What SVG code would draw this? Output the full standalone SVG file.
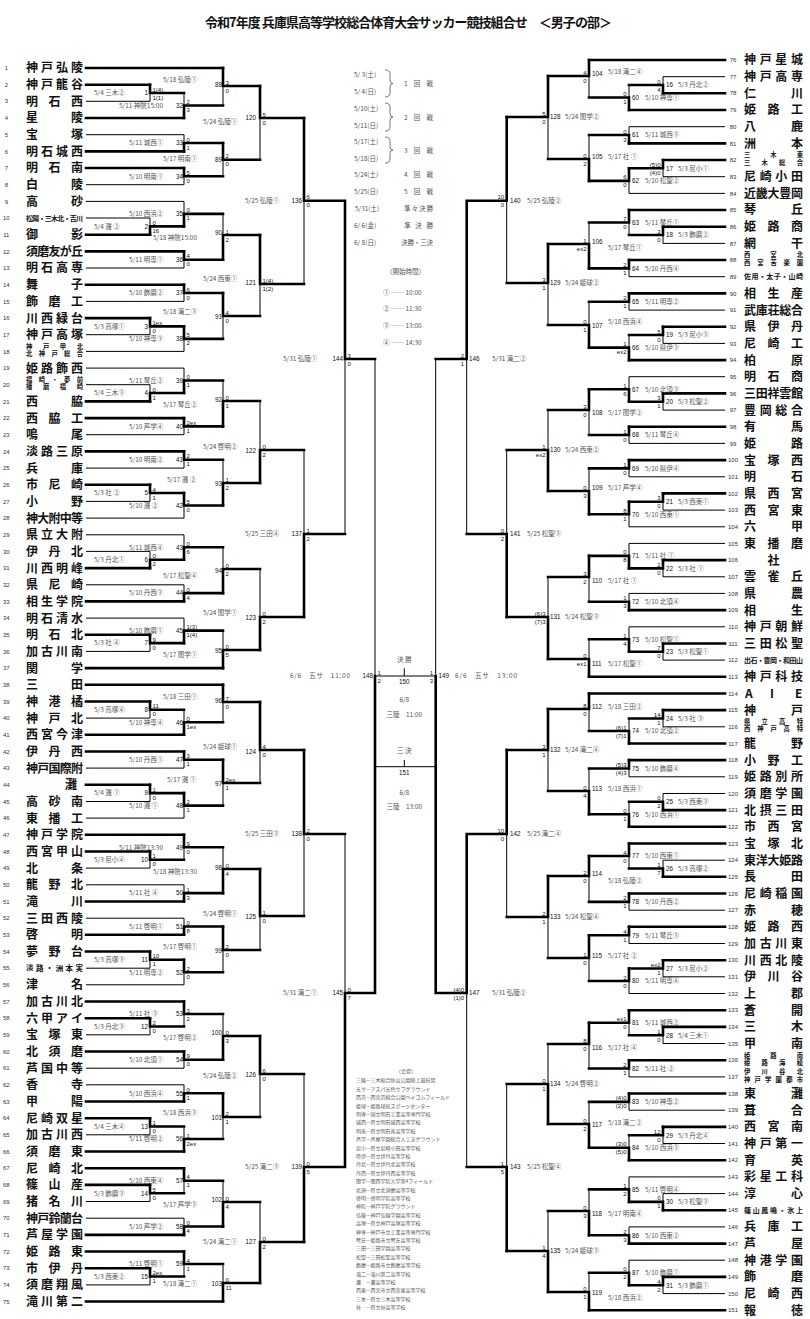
<svg xmlns="http://www.w3.org/2000/svg" width="810" height="1319" viewBox="0 0 810 1319">
<style>
text{font-family:"Noto Sans CJK JP","Liberation Sans",sans-serif}
.title{font-size:13px;font-weight:700;fill:#111}
.nm{font-size:12px;font-weight:700;fill:#111}
.sn{font-size:7px;font-weight:700;fill:#111}
.sn2{font-size:7.5px;font-weight:700;fill:#111}
.tn2{font-size:6.3px;font-weight:700;fill:#111}
.no{font-family:"Liberation Sans",sans-serif;font-size:6px;fill:#333;text-anchor:middle}
.d{font-size:6.5px;fill:#555}
.n{font-family:"Liberation Sans",sans-serif;font-size:6.3px;fill:#111}
.e{text-anchor:end}
.s{font-family:"Liberation Sans",sans-serif;font-size:6px;fill:#111}
.lg{font-size:6.5px;fill:#555}
.vn{font-size:5px;fill:#555}
.c{text-anchor:middle}
.tk{fill:none;stroke:#000;stroke-width:2.6;stroke-linecap:square}
.tn{fill:none;stroke:#000;stroke-width:1}
.br{fill:none;stroke:#555;stroke-width:0.8}
</style>
<rect width="810" height="1319" fill="#fff"/>
<text class="title" x="205" y="27" textLength="407">令和7年度 兵庫県高等学校総合体育大会サッカー競技組合せ　＜男子の部＞</text>

<g id="connectors">
<path class="tn" d="M86 101.3H150M86 134.7H184M86 184.7H184M86 201.4H184M86 218H150M86 268H184M86 301.4H184M86 334.7H150M86 351.4H184M86 368.1H184M86 384.7H150M86 434.7H184M86 468.1H184M86 501.4H150M86 518.1H184M86 534.8H184M86 551.4H150M86 584.8H184M86 618.1H184M86 651.4H150M86 718.1H150M86 768.1H184M86 801.5H150M86 818.1H184M86 868.1H150M86 884.8H184M86 918.2H184M86 968.2H150M86 984.8H184M86 1034.8H150M86 1068.2H184M86 1084.8H184M86 1134.8H150M86 1201.5H150M86 1218.2H184M86 1284.9H150"/>
<path class="tk" d="M86 68H223M86 84.7H150M86 118H184M86 151.4H184M86 168H184M86 234.7H150M86 251.4H184M86 284.7H184M86 318.1H150M86 401.4H150M86 418.1H184M86 451.4H184M86 484.7H150M86 568.1H150M86 601.4H184M86 634.8H150M86 668.1H223M86 684.8H223M86 701.5H150M86 734.8H184M86 751.5H184M86 784.8H150M86 834.8H184M86 851.5H150M86 901.5H184M86 934.8H184M86 951.5H150M86 1001.5H184M86 1018.2H150M86 1051.5H184M86 1101.5H184M86 1118.2H150M86 1151.5H184M86 1168.2H184M86 1184.9H150M86 1234.9H184M86 1251.5H184M86 1268.2H150M86 1301.5H223"/>
<path class="tn" d="M725 76.7H663M725 126.7H629M725 176.7H663M725 193.4H629M725 243.4H663M725 276.7H629M725 310.1H629M725 343.4H663M725 376.7H629M725 410.1H663M725 443.4H629M725 476.8H629M725 510.1H663M725 526.8H629M725 543.4H629M725 576.8H663M725 593.4H629M725 626.8H629M725 660.1H663M725 726.8H663M725 776.8H629M725 793.5H663M725 860.2H663M725 910.2H629M725 943.5H629M725 976.8H663M725 993.5H629M725 1043.5H663M725 1076.9H629M725 1110.2H629M725 1143.5H663M725 1176.9H629M725 1193.6H663M725 1226.9H629M725 1260.2H629M725 1293.6H663"/>
<path class="tk" d="M725 60H589M725 93.3H663M725 110H629M725 143.4H629M725 160H663M725 210H629M725 226.7H663M725 260H629M725 293.4H629M725 326.7H663M725 360.1H629M725 393.4H663M725 426.7H629M725 460.1H629M725 493.4H663M725 560.1H663M725 610.1H629M725 643.5H663M725 676.8H589M725 693.5H589M725 710.1H663M725 743.5H629M725 760.1H629M725 810.1H663M725 826.8H629M725 843.5H629M725 876.8H663M725 893.5H629M725 926.8H629M725 960.2H663M725 1010.2H629M725 1026.9H663M725 1060.2H629M725 1093.5H629M725 1126.9H663M725 1160.2H629M725 1210.2H663M725 1243.6H629M725 1276.9H663M725 1310.2H589"/>
<path class="tk" d="M150 84.7V93H184M150 234.7V226.4H184M150 318.1V326.4H184M150 401.4V393H184M150 484.7V493H184M150 568.1V559.8H184M150 634.8V643.1H184M150 701.5V709.8H184M150 784.8V793.1H184M150 851.5V859.8H184M150 951.5V959.8H184M150 1018.2V1026.5H184M150 1118.2V1126.5H184M150 1184.9V1193.2H184M150 1268.2V1276.5H184"/>
<path class="tn" d="M150 93V101.3M150 218V226.4M150 326.4V334.7M150 384.7V393M150 493V501.4M150 551.4V559.8M150 643.1V651.4M150 709.8V718.1M150 793.1V801.5M150 859.8V868.1M150 959.8V968.2M150 1026.5V1034.8M150 1126.5V1134.8M150 1193.2V1201.5M150 1276.5V1284.9"/>
<path class="tk" d="M184 118V105.5H223M184 151.4V143H223M184 168V176.3H223M184 226.4V213.9H223M184 251.4V259.7H223M184 284.7V293H223M184 326.4V338.9H223M184 393V380.5H223M184 418.1V426.4H223M184 451.4V459.7H223M184 493V505.5H223M184 559.8V547.3H223M184 601.4V593.1H223M184 643.1V630.6H223M184 734.8V722.3H223M184 751.5V759.8H223M184 793.1V805.6H223M184 834.8V847.3H223M184 901.5V893.1H223M184 934.8V926.5H223M184 959.8V972.3H223M184 1001.5V1014H223M184 1051.5V1059.8H223M184 1101.5V1093.2H223M184 1151.5V1139H223M184 1168.2V1180.7H223M184 1234.9V1226.5H223M184 1251.5V1264H223"/>
<path class="tn" d="M184 93V105.5M184 134.7V143M184 176.3V184.7M184 201.4V213.9M184 259.7V268M184 293V301.4M184 338.9V351.4M184 368.1V380.5M184 426.4V434.7M184 459.7V468.1M184 505.5V518.1M184 534.8V547.3M184 584.8V593.1M184 618.1V630.6M184 709.8V722.3M184 759.8V768.1M184 805.6V818.1M184 847.3V859.8M184 884.8V893.1M184 918.2V926.5M184 972.3V984.8M184 1014V1026.5M184 1059.8V1068.2M184 1084.8V1093.2M184 1126.5V1139M184 1180.7V1193.2M184 1218.2V1226.5M184 1264V1276.5"/>
<path class="tk" d="M223 68V86H260M223 143V159.7H260M223 259.7V235H260M223 293V316H260M223 426.4V401H260M223 505.5V483H260M223 593.1V569H260M223 668.1V650H260M223 684.8V702H260M223 759.8V783H260M223 893.1V869H260M223 926.5V950H260M223 1059.8V1036H260M223 1093.2V1117H260M223 1226.5V1202H260M223 1301.5V1283H260"/>
<path class="tn" d="M223 86V105.5M223 159.7V176.3M223 213.9V235M223 316V338.9M223 380.5V401M223 459.7V483M223 547.3V569M223 630.6V650M223 702V722.3M223 783V805.6M223 847.3V869M223 950V972.3M223 1014V1036M223 1117V1139M223 1180.7V1202M223 1264V1283"/>
<path class="tk" d="M260 86V118H304M260 235V284H304M260 483V450H304M260 650V617H304M260 702V750H304M260 869V916H304M260 1036V1074H304M260 1283V1242H304"/>
<path class="tn" d="M260 118V159.7M260 284V316M260 401V450M260 569V617M260 750V783M260 916V950M260 1074V1117M260 1202V1242"/>
<path class="tk" d="M304 118V200.7H345M304 617V534H345M304 750V834H345M304 1242V1167H345M345 200.7V359H375M345 1167V993H375M375 993V676"/>
<path class="tn" d="M304 200.7V284M304 450V534M304 834V916M304 1074V1167M345 359V534M345 834V993M375 359V676M375 676H435.7M375 766.7H435.7M404.3 668.3V676M404.3 760V766.7"/>
<path class="tk" d="M663 93.3V85H629M663 160V168.3H629M663 226.7V235H629M663 326.7V335H629M663 393.4V401.7H629M663 493.4V501.8H629M663 560.1V568.4H629M663 643.5V651.8H629M663 710.1V718.5H629M663 810.1V801.8H629M663 876.8V868.5H629M663 960.2V968.5H629M663 1026.9V1035.2H629M663 1126.9V1135.2H629M663 1210.2V1201.9H629M663 1276.9V1285.2H629"/>
<path class="tn" d="M663 76.7V85M663 168.3V176.7M663 235V243.4M663 335V343.4M663 401.7V410.1M663 501.8V510.1M663 568.4V576.8M663 651.8V660.1M663 718.5V726.8M663 793.5V801.8M663 860.2V868.5M663 968.5V976.8M663 1035.2V1043.5M663 1135.2V1143.5M663 1193.6V1201.9M663 1285.2V1293.6"/>
<path class="tk" d="M629 110V97.5H589M629 143.4V135H589M629 168.3V180.9H589M629 210V222.5H589M629 260V268.4H589M629 293.4V301.7H589M629 360.1V347.6H589M629 401.7V389.2H589M629 426.7V435H589M629 460.1V468.4H589M629 501.8V514.3H589M629 568.4V555.9H589M629 610.1V601.8H589M629 651.8V639.3H589M629 743.5V731H589M629 760.1V768.5H589M629 826.8V814.3H589M629 843.5V856H589M629 893.5V901.9H589M629 926.8V935.2H589M629 968.5V981H589M629 1010.2V1022.7H589M629 1060.2V1068.5H589M629 1093.5V1101.9H589M629 1160.2V1147.7H589M629 1201.9V1189.4H589M629 1243.6V1235.2H589M629 1285.2V1272.7H589"/>
<path class="tn" d="M629 85V97.5M629 126.7V135M629 180.9V193.4M629 222.5V235M629 268.4V276.7M629 301.7V310.1M629 335V347.6M629 376.7V389.2M629 435V443.4M629 468.4V476.8M629 514.3V526.8M629 543.4V555.9M629 593.4V601.8M629 626.8V639.3M629 718.5V731M629 768.5V776.8M629 801.8V814.3M629 856V868.5M629 901.9V910.2M629 935.2V943.5M629 981V993.5M629 1022.7V1035.2M629 1068.5V1076.9M629 1101.9V1110.2M629 1135.2V1147.7M629 1176.9V1189.4M629 1226.9V1235.2M629 1260.2V1272.7"/>
<path class="tk" d="M589 60V76H548M589 180.9V159H548M589 268.4V244H548M589 347.6V325H548M589 389.2V410H548M589 514.3V491H548M589 555.9V577H548M589 676.8V659H548M589 693.5V709H548M589 814.3V791H548M589 856V876H548M589 935.2V958H548M589 1022.7V1044H548M589 1147.7V1124H548M589 1235.2V1211H548M589 1310.2V1292H548"/>
<path class="tn" d="M589 76V97.5M589 135V159M589 222.5V244M589 301.7V325M589 410V435M589 468.4V491M589 577V601.8M589 639.3V659M589 709V731M589 768.5V791M589 876V901.9M589 958V981M589 1044V1068.5M589 1101.9V1124M589 1189.4V1211M589 1272.7V1292"/>
<path class="tk" d="M548 76V117H506.7M548 244V283H506.7M548 491V450H506.7M548 659V617H506.7M548 709V750H506.7M548 876V917H506.7M548 1124V1084H506.7M548 1292V1251H506.7"/>
<path class="tn" d="M548 117V159M548 283V325M548 410V450M548 577V617M548 750V791M548 917V958M548 1044V1084M548 1211V1251"/>
<path class="tk" d="M506.7 117V200.7H466.7M506.7 617V534H466.7M506.7 750V834H466.7M506.7 1251V1167H466.7M466.7 200.7V359H435.7M466.7 834V993H435.7M435.7 993V676"/>
<path class="tn" d="M506.7 200.7V283M506.7 450V534M506.7 834V917M506.7 1084V1167M466.7 359V534M466.7 993V1167M435.7 359V676"/>
<path class="br" d="M385 70Q390 70 390 74V80Q390 83.5 393 83.5Q390 83.5 390 87V93Q390 97 385 97M385 103Q390 103 390 107V113.5Q390 117 393 117Q390 117 390 120.5V127Q390 131 385 131M385 137Q390 137 390 141V146.5Q390 150 393 150Q390 150 390 153.5V159Q390 163 385 163"/>
</g>

<g id="teams-left">
<g id="t1"><text class="no" x="6.3" y="70.1">1</text><text class="nm" x="26 41 56 71" y="72.4">神戸弘陵</text></g>
<g id="t2"><text class="no" x="6.3" y="86.8">2</text><text class="nm" x="26 41 56 71" y="89.1">神戸龍谷</text></g>
<g id="t3"><text class="no" x="6.3" y="103.4">3</text><text class="nm" x="26 48.5 71" y="105.7">明石西</text></g>
<g id="t4"><text class="no" x="6.3" y="120.1">4</text><text class="nm" x="26 71" y="122.4">星陵</text></g>
<g id="t5"><text class="no" x="6.3" y="136.8">5</text><text class="nm" x="26 71" y="139.1">宝塚</text></g>
<g id="t6"><text class="no" x="6.3" y="153.5">6</text><text class="nm" x="26 41 56 71" y="155.8">明石城西</text></g>
<g id="t7"><text class="no" x="6.3" y="170.1">7</text><text class="nm" x="26 48.5 71" y="172.4">明石南</text></g>
<g id="t8"><text class="no" x="6.3" y="186.8">8</text><text class="nm" x="26 71" y="189.1">白陵</text></g>
<g id="t9"><text class="no" x="6.3" y="203.5">9</text><text class="nm" x="26 71" y="205.8">高砂</text></g>
<g id="t10"><text class="no" x="6.3" y="220.1">10</text><text class="sn" x="26 32.25 38.5 44.75 51 57.25 63.5 69.75 76" y="220.5">松陽・三木北・吉川</text></g>
<g id="t11"><text class="no" x="6.3" y="236.8">11</text><text class="nm" x="26 71" y="239.1">御影</text></g>
<g id="t12"><text class="no" x="6.3" y="253.5">12</text><text class="nm" x="26 37.25 48.5 59.75 71" y="255.8">須磨友が丘</text></g>
<g id="t13"><text class="no" x="6.3" y="270.1">13</text><text class="nm" x="26 41 56 71" y="272.4">明石高専</text></g>
<g id="t14"><text class="no" x="6.3" y="286.8">14</text><text class="nm" x="26 71" y="289.1">舞子</text></g>
<g id="t15"><text class="no" x="6.3" y="303.5">15</text><text class="nm" x="26 48.5 71" y="305.8">飾磨工</text></g>
<g id="t16"><text class="no" x="6.3" y="320.2">16</text><text class="nm" x="26 41 56 71" y="322.5">川西緑台</text></g>
<g id="t17"><text class="no" x="6.3" y="336.8">17</text><text class="nm" x="26 41 56 71" y="339.1">神戸高塚</text></g>
<g id="t18"><text class="no" x="6.3" y="353.5">18</text><text class="tn2" x="26 42.9 59.8 76.7" y="348.8">神戸甲北</text><text class="tn2" x="26 38.7 51.4 64 76.7" y="356">北神戸総合</text></g>
<g id="t19"><text class="no" x="6.3" y="370.2">19</text><text class="nm" x="26 41 56 71" y="372.5">姫路飾西</text></g>
<g id="t20"><text class="no" x="6.3" y="386.8">20</text><text class="tn2" x="26 38.7 51.4 64 76.7" y="382.1">福崎・夢前</text><text class="tn2" x="26 42.9 59.8 76.7" y="389.3">播磨福崎</text></g>
<g id="t21"><text class="no" x="6.3" y="403.5">21</text><text class="nm" x="26 71" y="405.8">西脇</text></g>
<g id="t22"><text class="no" x="6.3" y="420.2">22</text><text class="nm" x="26 48.5 71" y="422.5">西脇工</text></g>
<g id="t23"><text class="no" x="6.3" y="436.8">23</text><text class="nm" x="26 71" y="439.1">鳴尾</text></g>
<g id="t24"><text class="no" x="6.3" y="453.5">24</text><text class="nm" x="26 41 56 71" y="455.8">淡路三原</text></g>
<g id="t25"><text class="no" x="6.3" y="470.2">25</text><text class="nm" x="26 71" y="472.5">兵庫</text></g>
<g id="t26"><text class="no" x="6.3" y="486.8">26</text><text class="nm" x="26 48.5 71" y="489.1">市尼崎</text></g>
<g id="t27"><text class="no" x="6.3" y="503.5">27</text><text class="nm" x="26 71" y="505.8">小野</text></g>
<g id="t28"><text class="no" x="6.3" y="520.2">28</text><text class="nm" x="26 37.25 48.5 59.75 71" y="522.5">神大附中等</text></g>
<g id="t29"><text class="no" x="6.3" y="536.9">29</text><text class="nm" x="26 41 56 71" y="539.2">県立大附</text></g>
<g id="t30"><text class="no" x="6.3" y="553.5">30</text><text class="nm" x="26 48.5 71" y="555.8">伊丹北</text></g>
<g id="t31"><text class="no" x="6.3" y="570.2">31</text><text class="nm" x="26 41 56 71" y="572.5">川西明峰</text></g>
<g id="t32"><text class="no" x="6.3" y="586.9">32</text><text class="nm" x="26 48.5 71" y="589.2">県尼崎</text></g>
<g id="t33"><text class="no" x="6.3" y="603.5">33</text><text class="nm" x="26 41 56 71" y="605.8">相生学院</text></g>
<g id="t34"><text class="no" x="6.3" y="620.2">34</text><text class="nm" x="26 41 56 71" y="622.5">明石清水</text></g>
<g id="t35"><text class="no" x="6.3" y="636.9">35</text><text class="nm" x="26 48.5 71" y="639.2">明石北</text></g>
<g id="t36"><text class="no" x="6.3" y="653.5">36</text><text class="nm" x="26 41 56 71" y="655.8">加古川南</text></g>
<g id="t37"><text class="no" x="6.3" y="670.2">37</text><text class="nm" x="26 71" y="672.5">関学</text></g>
<g id="t38"><text class="no" x="6.3" y="686.9">38</text><text class="nm" x="26 71" y="689.2">三田</text></g>
<g id="t39"><text class="no" x="6.3" y="703.6">39</text><text class="nm" x="26 48.5 71" y="705.9">神港橘</text></g>
<g id="t40"><text class="no" x="6.3" y="720.2">40</text><text class="nm" x="26 48.5 71" y="722.5">神戸北</text></g>
<g id="t41"><text class="no" x="6.3" y="736.9">41</text><text class="nm" x="26 41 56 71" y="739.2">西宮今津</text></g>
<g id="t42"><text class="no" x="6.3" y="753.6">42</text><text class="nm" x="26 48.5 71" y="755.9">伊丹西</text></g>
<g id="t43"><text class="no" x="6.3" y="770.2">43</text><text class="nm" x="26 37.25 48.5 59.75 71" y="772.5">神戸国際附</text></g>
<g id="t44"><text class="no" x="6.3" y="786.9">44</text><text class="nm" x="65" y="789.2">灘</text></g>
<g id="t45"><text class="no" x="6.3" y="803.6">45</text><text class="nm" x="26 48.5 71" y="805.9">高砂南</text></g>
<g id="t46"><text class="no" x="6.3" y="820.2">46</text><text class="nm" x="26 48.5 71" y="822.5">東播工</text></g>
<g id="t47"><text class="no" x="6.3" y="836.9">47</text><text class="nm" x="26 41 56 71" y="839.2">神戸学院</text></g>
<g id="t48"><text class="no" x="6.3" y="853.6">48</text><text class="nm" x="26 41 56 71" y="855.9">西宮甲山</text></g>
<g id="t49"><text class="no" x="6.3" y="870.2">49</text><text class="nm" x="26 71" y="872.5">北条</text></g>
<g id="t50"><text class="no" x="6.3" y="886.9">50</text><text class="nm" x="26 48.5 71" y="889.2">龍野北</text></g>
<g id="t51"><text class="no" x="6.3" y="903.6">51</text><text class="nm" x="26 71" y="905.9">滝川</text></g>
<g id="t52"><text class="no" x="6.3" y="920.3">52</text><text class="nm" x="26 41 56 71" y="922.6">三田西陵</text></g>
<g id="t53"><text class="no" x="6.3" y="936.9">53</text><text class="nm" x="26 71" y="939.2">啓明</text></g>
<g id="t54"><text class="no" x="6.3" y="953.6">54</text><text class="nm" x="26 48.5 71" y="955.9">夢野台</text></g>
<g id="t55"><text class="no" x="6.3" y="970.3">55</text><text class="sn2" x="26 35.9 45.8 55.7 65.6 75.5" y="970.9">淡路・洲本実</text></g>
<g id="t56"><text class="no" x="6.3" y="986.9">56</text><text class="nm" x="26 71" y="989.2">津名</text></g>
<g id="t57"><text class="no" x="6.3" y="1003.6">57</text><text class="nm" x="26 41 56 71" y="1005.9">加古川北</text></g>
<g id="t58"><text class="no" x="6.3" y="1020.3">58</text><text class="nm" x="26 41 56 71" y="1022.6">六甲アイ</text></g>
<g id="t59"><text class="no" x="6.3" y="1036.9">59</text><text class="nm" x="26 48.5 71" y="1039.2">宝塚東</text></g>
<g id="t60"><text class="no" x="6.3" y="1053.6">60</text><text class="nm" x="26 48.5 71" y="1055.9">北須磨</text></g>
<g id="t61"><text class="no" x="6.3" y="1070.3">61</text><text class="nm" x="26 41 56 71" y="1072.6">芦国中等</text></g>
<g id="t62"><text class="no" x="6.3" y="1086.9">62</text><text class="nm" x="26 71" y="1089.2">香寺</text></g>
<g id="t63"><text class="no" x="6.3" y="1103.6">63</text><text class="nm" x="26 71" y="1105.9">甲陽</text></g>
<g id="t64"><text class="no" x="6.3" y="1120.3">64</text><text class="nm" x="26 41 56 71" y="1122.6">尼崎双星</text></g>
<g id="t65"><text class="no" x="6.3" y="1136.9">65</text><text class="nm" x="26 41 56 71" y="1139.2">加古川西</text></g>
<g id="t66"><text class="no" x="6.3" y="1153.6">66</text><text class="nm" x="26 48.5 71" y="1155.9">須磨東</text></g>
<g id="t67"><text class="no" x="6.3" y="1170.3">67</text><text class="nm" x="26 48.5 71" y="1172.6">尼崎北</text></g>
<g id="t68"><text class="no" x="6.3" y="1187">68</text><text class="nm" x="26 48.5 71" y="1189.3">篠山産</text></g>
<g id="t69"><text class="no" x="6.3" y="1203.6">69</text><text class="nm" x="26 48.5 71" y="1205.9">猪名川</text></g>
<g id="t70"><text class="no" x="6.3" y="1220.3">70</text><text class="nm" x="26 37.25 48.5 59.75 71" y="1222.6">神戸鈴蘭台</text></g>
<g id="t71"><text class="no" x="6.3" y="1237">71</text><text class="nm" x="26 41 56 71" y="1239.3">芦屋学園</text></g>
<g id="t72"><text class="no" x="6.3" y="1253.6">72</text><text class="nm" x="26 48.5 71" y="1255.9">姫路東</text></g>
<g id="t73"><text class="no" x="6.3" y="1270.3">73</text><text class="nm" x="26 48.5 71" y="1272.6">市伊丹</text></g>
<g id="t74"><text class="no" x="6.3" y="1287">74</text><text class="nm" x="26 41 56 71" y="1289.3">須磨翔風</text></g>
<g id="t75"><text class="no" x="6.3" y="1303.6">75</text><text class="nm" x="26 41 56 71" y="1305.9">滝川第二</text></g>
</g>

<g id="teams-right">
<g id="t76"><text class="no" x="733" y="62.1">76</text><text class="nm" x="744 759.67 775.33 791" y="64.4">神戸星城</text></g>
<g id="t77"><text class="no" x="733" y="78.8">77</text><text class="nm" x="744 759.67 775.33 791" y="81.1">神戸高専</text></g>
<g id="t78"><text class="no" x="733" y="95.4">78</text><text class="nm" x="744 791" y="97.7">仁川</text></g>
<g id="t79"><text class="no" x="733" y="112.1">79</text><text class="nm" x="744 767.5 791" y="114.4">姫路工</text></g>
<g id="t80"><text class="no" x="733" y="128.8">80</text><text class="nm" x="744 791" y="131.1">八鹿</text></g>
<g id="t81"><text class="no" x="733" y="145.5">81</text><text class="nm" x="744 791" y="147.8">洲本</text></g>
<g id="t82"><text class="no" x="733" y="162.1">82</text><text class="tn2" x="744 770.35 796.7" y="157.4">三木東</text><text class="tn2" x="744 761.6 779.1 796.7" y="164.6">三木総合</text></g>
<g id="t83"><text class="no" x="733" y="178.8">83</text><text class="nm" x="744 759.67 775.33 791" y="181.1">尼崎小田</text></g>
<g id="t84"><text class="no" x="733" y="195.5">84</text><text class="nm" x="744 755.75 767.5 779.25 791" y="197.8">近畿大豊岡</text></g>
<g id="t85"><text class="no" x="733" y="212.1">85</text><text class="nm" x="744 791" y="214.4">琴丘</text></g>
<g id="t86"><text class="no" x="733" y="228.8">86</text><text class="nm" x="744 767.5 791" y="231.1">姫路商</text></g>
<g id="t87"><text class="no" x="733" y="245.5">87</text><text class="nm" x="744 791" y="247.8">網干</text></g>
<g id="t88"><text class="no" x="733" y="262.1">88</text><text class="tn2" x="744 770.35 796.7" y="257.4">西宮北</text><text class="tn2" x="744 757.2 770.4 783.5 796.7" y="264.6">西宮苦楽園</text></g>
<g id="t89"><text class="no" x="733" y="278.8">89</text><text class="sn" x="744 751.4 758.9 766.3 773.7 781.1 788.6 796" y="279.2">佐用・太子・山崎</text></g>
<g id="t90"><text class="no" x="733" y="295.5">90</text><text class="nm" x="744 767.5 791" y="297.8">相生産</text></g>
<g id="t91"><text class="no" x="733" y="312.2">91</text><text class="nm" x="744 755.75 767.5 779.25 791" y="314.5">武庫荘総合</text></g>
<g id="t92"><text class="no" x="733" y="328.8">92</text><text class="nm" x="744 767.5 791" y="331.1">県伊丹</text></g>
<g id="t93"><text class="no" x="733" y="345.5">93</text><text class="nm" x="744 767.5 791" y="347.8">尼崎工</text></g>
<g id="t94"><text class="no" x="733" y="362.2">94</text><text class="nm" x="744 791" y="364.5">柏原</text></g>
<g id="t95"><text class="no" x="733" y="378.8">95</text><text class="nm" x="744 767.5 791" y="381.1">明石商</text></g>
<g id="t96"><text class="no" x="733" y="395.5">96</text><text class="nm" x="744 755.75 767.5 779.25 791" y="397.8">三田祥雲館</text></g>
<g id="t97"><text class="no" x="733" y="412.2">97</text><text class="nm" x="744 759.67 775.33 791" y="414.5">豊岡総合</text></g>
<g id="t98"><text class="no" x="733" y="428.8">98</text><text class="nm" x="744 791" y="431.1">有馬</text></g>
<g id="t99"><text class="no" x="733" y="445.5">99</text><text class="nm" x="744 791" y="447.8">姫路</text></g>
<g id="t100"><text class="no" x="733" y="462.2">100</text><text class="nm" x="744 767.5 791" y="464.5">宝塚西</text></g>
<g id="t101"><text class="no" x="733" y="478.9">101</text><text class="nm" x="744 791" y="481.2">明石</text></g>
<g id="t102"><text class="no" x="733" y="495.5">102</text><text class="nm" x="744 767.5 791" y="497.8">県西宮</text></g>
<g id="t103"><text class="no" x="733" y="512.2">103</text><text class="nm" x="744 767.5 791" y="514.5">西宮東</text></g>
<g id="t104"><text class="no" x="733" y="528.9">104</text><text class="nm" x="744 791" y="531.2">六甲</text></g>
<g id="t105"><text class="no" x="733" y="545.5">105</text><text class="nm" x="744 767.5 791" y="547.8">東播磨</text></g>
<g id="t106"><text class="no" x="733" y="562.2">106</text><text class="nm" x="767.5" y="564.5">社</text></g>
<g id="t107"><text class="no" x="733" y="578.9">107</text><text class="nm" x="744 767.5 791" y="581.2">雲雀丘</text></g>
<g id="t108"><text class="no" x="733" y="595.5">108</text><text class="nm" x="744 791" y="597.8">県農</text></g>
<g id="t109"><text class="no" x="733" y="612.2">109</text><text class="nm" x="744 791" y="614.5">相生</text></g>
<g id="t110"><text class="no" x="733" y="628.9">110</text><text class="nm" x="744 759.67 775.33 791" y="631.2">神戸朝鮮</text></g>
<g id="t111"><text class="no" x="733" y="645.6">111</text><text class="nm" x="744 759.67 775.33 791" y="647.9">三田松聖</text></g>
<g id="t112"><text class="no" x="733" y="662.2">112</text><text class="sn" x="744 750.5 757 763.5 770 776.5 783 789.5 796" y="662.6">出石・豊岡・和田山</text></g>
<g id="t113"><text class="no" x="733" y="678.9">113</text><text class="nm" x="744 759.67 775.33 791" y="681.2">神戸科技</text></g>
<g id="t114"><text class="no" x="733" y="695.6">114</text><text class="nm" x="745 770 795" y="697.9">AIE</text></g>
<g id="t115"><text class="no" x="733" y="712.2">115</text><text class="nm" x="744 791" y="714.5">神戸</text></g>
<g id="t116"><text class="no" x="733" y="728.9">116</text><text class="tn2" x="744 761.6 779.1 796.7" y="724.2">県立高特</text><text class="tn2" x="744 757.2 770.4 783.5 796.7" y="731.4">西神戸高特</text></g>
<g id="t117"><text class="no" x="733" y="745.6">117</text><text class="nm" x="744 791" y="747.9">龍野</text></g>
<g id="t118"><text class="no" x="733" y="762.2">118</text><text class="nm" x="744 767.5 791" y="764.5">小野工</text></g>
<g id="t119"><text class="no" x="733" y="778.9">119</text><text class="nm" x="744 759.67 775.33 791" y="781.2">姫路別所</text></g>
<g id="t120"><text class="no" x="733" y="795.6">120</text><text class="nm" x="744 759.67 775.33 791" y="797.9">須磨学園</text></g>
<g id="t121"><text class="no" x="733" y="812.2">121</text><text class="nm" x="744 759.67 775.33 791" y="814.5">北摂三田</text></g>
<g id="t122"><text class="no" x="733" y="828.9">122</text><text class="nm" x="744 767.5 791" y="831.2">市西宮</text></g>
<g id="t123"><text class="no" x="733" y="845.6">123</text><text class="nm" x="744 767.5 791" y="847.9">宝塚北</text></g>
<g id="t124"><text class="no" x="733" y="862.3">124</text><text class="nm" x="744 755.75 767.5 779.25 791" y="864.6">東洋大姫路</text></g>
<g id="t125"><text class="no" x="733" y="878.9">125</text><text class="nm" x="744 791" y="881.2">長田</text></g>
<g id="t126"><text class="no" x="733" y="895.6">126</text><text class="nm" x="744 759.67 775.33 791" y="897.9">尼崎稲園</text></g>
<g id="t127"><text class="no" x="733" y="912.3">127</text><text class="nm" x="744 791" y="914.6">赤穂</text></g>
<g id="t128"><text class="no" x="733" y="928.9">128</text><text class="nm" x="744 767.5 791" y="931.2">姫路西</text></g>
<g id="t129"><text class="no" x="733" y="945.6">129</text><text class="nm" x="744 759.67 775.33 791" y="947.9">加古川東</text></g>
<g id="t130"><text class="no" x="733" y="962.3">130</text><text class="nm" x="744 759.67 775.33 791" y="964.6">川西北陵</text></g>
<g id="t131"><text class="no" x="733" y="978.9">131</text><text class="nm" x="744 767.5 791" y="981.2">伊川谷</text></g>
<g id="t132"><text class="no" x="733" y="995.6">132</text><text class="nm" x="744 791" y="997.9">上郡</text></g>
<g id="t133"><text class="no" x="733" y="1012.3">133</text><text class="nm" x="744 791" y="1014.6">蒼開</text></g>
<g id="t134"><text class="no" x="733" y="1029">134</text><text class="nm" x="744 791" y="1031.3">三木</text></g>
<g id="t135"><text class="no" x="733" y="1045.6">135</text><text class="nm" x="744 791" y="1047.9">甲南</text></g>
<g id="t136"><text class="no" x="733" y="1062.3">136</text><text class="tn2" x="744 770.35 796.7" y="1057.6">姫路南</text><text class="tn2" x="744 761.6 779.1 796.7" y="1064.8">姫路海稜</text></g>
<g id="t137"><text class="no" x="733" y="1079">137</text><text class="tn2" x="744 761.6 779.1 796.7" y="1074.3">伊川谷北</text><text class="tn2" x="744 754.5 765.1 775.6 786.2 796.7" y="1081.5">神戸学園都市</text></g>
<g id="t138"><text class="no" x="733" y="1095.6">138</text><text class="nm" x="744 791" y="1097.9">東灘</text></g>
<g id="t139"><text class="no" x="733" y="1112.3">139</text><text class="nm" x="744 791" y="1114.6">葺合</text></g>
<g id="t140"><text class="no" x="733" y="1129">140</text><text class="nm" x="744 767.5 791" y="1131.3">西宮南</text></g>
<g id="t141"><text class="no" x="733" y="1145.6">141</text><text class="nm" x="744 759.67 775.33 791" y="1147.9">神戸第一</text></g>
<g id="t142"><text class="no" x="733" y="1162.3">142</text><text class="nm" x="744 791" y="1164.6">育英</text></g>
<g id="t143"><text class="no" x="733" y="1179">143</text><text class="nm" x="744 759.67 775.33 791" y="1181.3">彩星工科</text></g>
<g id="t144"><text class="no" x="733" y="1195.7">144</text><text class="nm" x="744 791" y="1198">淳心</text></g>
<g id="t145"><text class="no" x="733" y="1212.3">145</text><text class="sn" x="744 752.7 761.3 770 778.7 787.3 796" y="1212.7">篠山鳳鳴・氷上</text></g>
<g id="t146"><text class="no" x="733" y="1229">146</text><text class="nm" x="744 767.5 791" y="1231.3">兵庫工</text></g>
<g id="t147"><text class="no" x="733" y="1245.7">147</text><text class="nm" x="744 791" y="1248">芦屋</text></g>
<g id="t148"><text class="no" x="733" y="1262.3">148</text><text class="nm" x="744 759.67 775.33 791" y="1264.6">神港学園</text></g>
<g id="t149"><text class="no" x="733" y="1279">149</text><text class="nm" x="744 791" y="1281.3">飾磨</text></g>
<g id="t150"><text class="no" x="733" y="1295.7">150</text><text class="nm" x="744 767.5 791" y="1298">尼崎西</text></g>
<g id="t151"><text class="no" x="733" y="1312.3">151</text><text class="nm" x="744 791" y="1314.6">報徳</text></g>
</g>

<g id="matches-left-r1">
<g id="m1"><text class="d" x="94" y="95.3">5/4 三木②</text><text class="n e" x="148" y="95.3">1</text><text class="s" x="152.5" y="91.5">1(4)</text><text class="s" x="152.5" y="99.5">1(1)</text></g>
<g id="m2"><text class="d" x="94" y="228.7">5/4 灘 ②</text><text class="n e" x="148" y="228.7">2</text><text class="s" x="152.5" y="224.9">0</text><text class="s" x="152.5" y="232.9">16</text></g>
<g id="m3"><text class="d" x="94" y="328.7">5/3 高塚①</text><text class="n e" x="148" y="328.7">3</text><text class="s" x="152.5" y="324.9">1ex</text><text class="s" x="152.5" y="332.9">0</text></g>
<g id="m4"><text class="d" x="94" y="395.3">5/4 三木③</text><text class="n e" x="148" y="395.3">4</text><text class="s" x="152.5" y="391.5">0</text><text class="s" x="152.5" y="399.5">1</text></g>
<g id="m5"><text class="d" x="94" y="495.3">5/3 社 ②</text><text class="n e" x="148" y="495.3">5</text><text class="s" x="152.5" y="491.5">4</text><text class="s" x="152.5" y="499.5">1</text></g>
<g id="m6"><text class="d" x="94" y="562.1">5/3 丹北①</text><text class="n e" x="148" y="562.1">6</text><text class="s" x="152.5" y="558.3">0</text><text class="s" x="152.5" y="566.3">2</text></g>
<g id="m7"><text class="d" x="94" y="645.4">5/3 社 ④</text><text class="n e" x="148" y="645.4">7</text><text class="s" x="152.5" y="641.6">9</text><text class="s" x="152.5" y="649.6">0</text></g>
<g id="m8"><text class="d" x="94" y="712.1">5/3 高塚④</text><text class="n e" x="148" y="712.1">8</text><text class="s" x="152.5" y="708.3">11</text><text class="s" x="152.5" y="716.3">0</text></g>
<g id="m9"><text class="d" x="94" y="795.4">5/4 灘 ①</text><text class="n e" x="148" y="795.4">9</text><text class="s" x="152.5" y="791.6">1</text><text class="s" x="152.5" y="799.6">0</text></g>
<g id="m10"><text class="d" x="94" y="862.1">5/3 尼小④</text><text class="n e" x="148" y="862.1">10</text><text class="s" x="152.5" y="858.3">1</text><text class="s" x="152.5" y="866.3">0</text></g>
<g id="m11"><text class="d" x="94" y="962.1">5/3 高塚③</text><text class="n e" x="148" y="962.1">11</text><text class="s" x="152.5" y="958.3">10</text><text class="s" x="152.5" y="966.3">1</text></g>
<g id="m12"><text class="d" x="94" y="1028.8">5/3 丹北③</text><text class="n e" x="148" y="1028.8">12</text><text class="s" x="152.5" y="1025">2</text><text class="s" x="152.5" y="1033">0</text></g>
<g id="m13"><text class="d" x="94" y="1128.8">5/4 三木④</text><text class="n e" x="148" y="1128.8">13</text><text class="s" x="152.5" y="1125">1</text><text class="s" x="152.5" y="1133">0</text></g>
<g id="m14"><text class="d" x="94" y="1195.5">5/3 飾磨③</text><text class="n e" x="148" y="1195.5">14</text><text class="s" x="152.5" y="1191.7">5</text><text class="s" x="152.5" y="1199.7">0</text></g>
<g id="m15"><text class="d" x="94" y="1278.8">5/3 西東②</text><text class="n e" x="148" y="1278.8">15</text><text class="s" x="152.5" y="1275">2ex</text><text class="s" x="152.5" y="1283">1</text></g>
</g>

<g id="matches-left-r2">
<g id="m32"><text class="d" x="119" y="107.8">5/11 神院15:00</text><text class="n e" x="183" y="107.8">32</text><text class="s" x="186.5" y="104">2</text><text class="s" x="186.5" y="112">3</text></g>
<g id="m33"><text class="d" x="129" y="145.3">5/11 城西①</text><text class="n e" x="183" y="145.3">33</text><text class="s" x="186.5" y="141.5">0</text><text class="s" x="186.5" y="149.5">1</text></g>
<g id="m34"><text class="d" x="129" y="178.6">5/10 明南①</text><text class="n e" x="183" y="178.6">34</text><text class="s" x="186.5" y="174.8">5</text><text class="s" x="186.5" y="182.8">0</text></g>
<g id="m35"><text class="d" x="129" y="216.2">5/10 西浜②</text><text class="n e" x="183" y="216.2">35</text><text class="s" x="186.5" y="212.4">0</text><text class="s" x="186.5" y="220.4">1</text></g>
<g id="m36"><text class="d" x="129" y="262">5/11 明専①</text><text class="n e" x="183" y="262">36</text><text class="s" x="186.5" y="258.2">4</text><text class="s" x="186.5" y="266.2">0</text></g>
<g id="m37"><text class="d" x="129" y="295.3">5/10 飾磨②</text><text class="n e" x="183" y="295.3">37</text><text class="s" x="186.5" y="291.5">6</text><text class="s" x="186.5" y="299.5">0</text></g>
<g id="m38"><text class="d" x="129" y="341.2">5/10 神専③</text><text class="n e" x="183" y="341.2">38</text><text class="s" x="186.5" y="337.4">5</text><text class="s" x="186.5" y="345.4">2</text></g>
<g id="m39"><text class="d" x="129" y="382.8">5/11 琴丘②</text><text class="n e" x="183" y="382.8">39</text><text class="s" x="186.5" y="379">0</text><text class="s" x="186.5" y="387">1</text></g>
<g id="m40"><text class="d" x="129" y="428.7">5/10 芦学④</text><text class="n e" x="183" y="428.7">40</text><text class="s" x="186.5" y="424.9">2ex</text><text class="s" x="186.5" y="432.9">1</text></g>
<g id="m41"><text class="d" x="129" y="462">5/10 明南②</text><text class="n e" x="183" y="462">41</text><text class="s" x="186.5" y="458.2">2</text><text class="s" x="186.5" y="466.2">1</text></g>
<g id="m42"><text class="d" x="129" y="507.8">5/10 灘 ②</text><text class="n e" x="183" y="507.8">42</text><text class="s" x="186.5" y="504">5</text><text class="s" x="186.5" y="512">0</text></g>
<g id="m43"><text class="d" x="129" y="549.6">5/11 城西④</text><text class="n e" x="183" y="549.6">43</text><text class="s" x="186.5" y="545.8">0</text><text class="s" x="186.5" y="553.8">6</text></g>
<g id="m44"><text class="d" x="129" y="595.4">5/10 丹西③</text><text class="n e" x="183" y="595.4">44</text><text class="s" x="186.5" y="591.6">0</text><text class="s" x="186.5" y="599.6">4</text></g>
<g id="m45"><text class="d" x="129" y="632.9">5/10 飾磨①</text><text class="n e" x="183" y="632.9">45</text><text class="s" x="186.5" y="629.1">1(3)</text><text class="s" x="186.5" y="637.1">1(4)</text></g>
<g id="m46"><text class="d" x="129" y="724.6">5/10 神専④</text><text class="n e" x="183" y="724.6">46</text><text class="s" x="186.5" y="720.8">0</text><text class="s" x="186.5" y="728.8">1ex</text></g>
<g id="m47"><text class="d" x="129" y="762.1">5/10 丹西①</text><text class="n e" x="183" y="762.1">47</text><text class="s" x="186.5" y="758.3">3</text><text class="s" x="186.5" y="766.3">1</text></g>
<g id="m48"><text class="d" x="129" y="807.9">5/10 灘 ①</text><text class="n e" x="183" y="807.9">48</text><text class="s" x="186.5" y="804.1">2</text><text class="s" x="186.5" y="812.1">1</text></g>
<g id="m49"><text class="d" x="119" y="849.6">5/11 神院13:30</text><text class="n e" x="183" y="849.6">49</text><text class="s" x="186.5" y="845.8">9</text><text class="s" x="186.5" y="853.8">0</text></g>
<g id="m50"><text class="d" x="129" y="895.4">5/11 社 ④</text><text class="n e" x="183" y="895.4">50</text><text class="s" x="186.5" y="891.6">1</text><text class="s" x="186.5" y="899.6">3</text></g>
<g id="m51"><text class="d" x="129" y="928.8">5/11 啓明①</text><text class="n e" x="183" y="928.8">51</text><text class="s" x="186.5" y="925">0</text><text class="s" x="186.5" y="933">8</text></g>
<g id="m52"><text class="d" x="129" y="974.6">5/11 明専②</text><text class="n e" x="183" y="974.6">52</text><text class="s" x="186.5" y="970.8">2</text><text class="s" x="186.5" y="978.8">0</text></g>
<g id="m53"><text class="d" x="129" y="1016.3">5/11 社 ③</text><text class="n e" x="183" y="1016.3">53</text><text class="s" x="186.5" y="1012.5">3</text><text class="s" x="186.5" y="1020.5">2</text></g>
<g id="m54"><text class="d" x="129" y="1062.1">5/10 北須①</text><text class="n e" x="183" y="1062.1">54</text><text class="s" x="186.5" y="1058.3">9</text><text class="s" x="186.5" y="1066.3">0</text></g>
<g id="m55"><text class="d" x="129" y="1095.5">5/10 西浜④</text><text class="n e" x="183" y="1095.5">55</text><text class="s" x="186.5" y="1091.7">0</text><text class="s" x="186.5" y="1099.7">1</text></g>
<g id="m56"><text class="d" x="129" y="1141.3">5/11 啓明②</text><text class="n e" x="183" y="1141.3">56</text><text class="s" x="186.5" y="1137.5">1</text><text class="s" x="186.5" y="1145.5">2ex</text></g>
<g id="m57"><text class="d" x="129" y="1183">5/10 西東④</text><text class="n e" x="183" y="1183">57</text><text class="s" x="186.5" y="1179.2">4</text><text class="s" x="186.5" y="1187.2">1</text></g>
<g id="m58"><text class="d" x="129" y="1228.8">5/10 芦学②</text><text class="n e" x="183" y="1228.8">58</text><text class="s" x="186.5" y="1225">0</text><text class="s" x="186.5" y="1233">4</text></g>
<g id="m59"><text class="d" x="129" y="1266.3">5/11 啓明①</text><text class="n e" x="183" y="1266.3">59</text><text class="s" x="186.5" y="1262.5">4</text><text class="s" x="186.5" y="1270.5">1</text></g>
</g>

<g id="matches-left-r3">
<g id="m88"><text class="d" x="163" y="82.3">5/18 弘陵①</text><text class="n e" x="222" y="87.3">88</text><text class="s" x="225.5" y="84.5">3</text><text class="s" x="225.5" y="92.5">0</text></g>
<g id="m89"><text class="d" x="163" y="161.3">5/17 明南①</text><text class="n e" x="222" y="162">89</text><text class="s" x="225.5" y="158.2">2</text><text class="s" x="225.5" y="166.2">0</text></g>
<g id="m90"><text class="d" x="153" y="240">5/18 神院15:00</text><text class="n e" x="222" y="235.3">90</text><text class="s" x="225.5" y="233.5">1</text><text class="s" x="225.5" y="241.5">2</text></g>
<g id="m91"><text class="d" x="163" y="314.3">5/18 滝二③</text><text class="n e" x="222" y="319">91</text><text class="s" x="225.5" y="314.5">4</text><text class="s" x="225.5" y="322.5">0</text></g>
<g id="m92"><text class="d" x="163" y="407.3">5/17 琴丘②</text><text class="n e" x="222" y="402.3">92</text><text class="s" x="225.5" y="399.5">0</text><text class="s" x="225.5" y="407.5">1</text></g>
<g id="m93"><text class="d" x="167" y="482.3">5/17 灘 ②</text><text class="n e" x="222" y="486.3">93</text><text class="s" x="225.5" y="481.5">1</text><text class="s" x="225.5" y="489.5">2</text></g>
<g id="m94"><text class="d" x="163" y="578">5/17 松聖④</text><text class="n e" x="222" y="573.3">94</text><text class="s" x="225.5" y="567.5">0</text><text class="s" x="225.5" y="575.5">2</text></g>
<g id="m95"><text class="d" x="163" y="657.3">5/17 関学①</text><text class="n e" x="222" y="653.3">95</text><text class="s" x="225.5" y="648.5">0</text><text class="s" x="225.5" y="656.5">5</text></g>
<g id="m96"><text class="d" x="163" y="699">5/18 三田①</text><text class="n e" x="222" y="703.3">96</text><text class="s" x="225.5" y="700.5">7</text><text class="s" x="225.5" y="708.5">0</text></g>
<g id="m97"><text class="d" x="167" y="782.3">5/17 灘 ①</text><text class="n e" x="222" y="786.3">97</text><text class="s" x="225.5" y="781.5">2ex</text><text class="s" x="225.5" y="789.5">1</text></g>
<g id="m98"><text class="d" x="153" y="874.3">5/18 神院13:30</text><text class="n e" x="222" y="870.3">98</text><text class="s" x="225.5" y="867.5">0</text><text class="s" x="225.5" y="875.5">4</text></g>
<g id="m99"><text class="d" x="163" y="949">5/17 啓明①</text><text class="n e" x="222" y="953">99</text><text class="s" x="225.5" y="948.5">2</text><text class="s" x="225.5" y="956.5">0</text></g>
<g id="m100"><text class="d" x="163" y="1040.3">5/17 啓明②</text><text class="n e" x="222" y="1035.3">100</text><text class="s" x="225.5" y="1034.5">0</text><text class="s" x="225.5" y="1042.5">3</text></g>
<g id="m101"><text class="d" x="163" y="1115.3">5/18 西浜③</text><text class="n e" x="222" y="1120">101</text><text class="s" x="225.5" y="1115.5">2</text><text class="s" x="225.5" y="1123.5">1</text></g>
<g id="m102"><text class="d" x="163" y="1207.3">5/17 芦学③</text><text class="n e" x="222" y="1202.3">102</text><text class="s" x="225.5" y="1200.5">0</text><text class="s" x="225.5" y="1208.5">4</text></g>
<g id="m103"><text class="d" x="163" y="1286.3">5/18 滝二①</text><text class="n e" x="222" y="1286.3">103</text><text class="s" x="225.5" y="1281.5">0</text><text class="s" x="225.5" y="1289.5">11</text></g>
</g>

<g id="matches-left-r4">
<g id="m120"><text class="d" x="203" y="124.3">5/24 弘陵①</text><text class="n e" x="256" y="120">120</text><text class="s" x="262.5" y="116.5">5</text><text class="s" x="262.5" y="124.5">0</text></g>
<g id="m121"><text class="d" x="203" y="281.3">5/24 西東①</text><text class="n e" x="256" y="285.3">121</text><text class="s" x="262.5" y="282.5">1(4)</text><text class="s" x="262.5" y="290.5">1(2)</text></g>
<g id="m122"><text class="d" x="203" y="449.3">5/24 啓明②</text><text class="n e" x="256" y="453.3">122</text><text class="s" x="262.5" y="448.5">0</text><text class="s" x="262.5" y="456.5">2</text></g>
<g id="m123"><text class="d" x="203" y="615.3">5/24 関学①</text><text class="n e" x="256" y="620">123</text><text class="s" x="262.5" y="615.5">0</text><text class="s" x="262.5" y="623.5">2</text></g>
<g id="m124"><text class="d" x="203" y="749.3">5/24 姫球①</text><text class="n e" x="256" y="754">124</text><text class="s" x="262.5" y="748.5">4</text><text class="s" x="262.5" y="756.5">0</text></g>
<g id="m125"><text class="d" x="203" y="916.3">5/24 啓明①</text><text class="n e" x="256" y="919">125</text><text class="s" x="262.5" y="914.5">1</text><text class="s" x="262.5" y="922.5">0</text></g>
<g id="m126"><text class="d" x="203" y="1078">5/24 弘陵②</text><text class="n e" x="256" y="1077.3">126</text><text class="s" x="262.5" y="1072.5">6</text><text class="s" x="262.5" y="1080.5">0</text></g>
<g id="m127"><text class="d" x="203" y="1244.3">5/24 滝二①</text><text class="n e" x="256" y="1244.3">127</text><text class="s" x="262.5" y="1240.5">0</text><text class="s" x="262.5" y="1248.5">2</text></g>
</g>

<g id="matches-left-late">
<g id="m136"><text class="d" x="245" y="203">5/25 弘陵①</text><text class="n e" x="302" y="203">136</text><text class="s" x="306.5" y="199.2">6</text><text class="s" x="306.5" y="207.2">0</text></g>
<g id="m137"><text class="d" x="245" y="536.3">5/25 三田④</text><text class="n e" x="302" y="536.3">137</text><text class="s" x="306.5" y="532.5">1</text><text class="s" x="306.5" y="540.5">2</text></g>
<g id="m138"><text class="d" x="245" y="836.3">5/25 三田③</text><text class="n e" x="302" y="836.3">138</text><text class="s" x="306.5" y="832.5">2</text><text class="s" x="306.5" y="840.5">0</text></g>
<g id="m139"><text class="d" x="245" y="1169.3">5/25 滝二③</text><text class="n e" x="302" y="1169.3">139</text><text class="s" x="306.5" y="1165.5">0</text><text class="s" x="306.5" y="1173.5">5</text></g>
<g id="m144"><text class="d" x="283" y="361.3">5/31 弘陵①</text><text class="n e" x="343" y="361.3">144</text><text class="s" x="347.5" y="357.5">3</text><text class="s" x="347.5" y="365.5">0</text></g>
<g id="m145"><text class="d" x="283" y="995.3">5/31 滝二①</text><text class="n e" x="343" y="995.3">145</text><text class="s" x="347.5" y="991.5">0</text><text class="s" x="347.5" y="999.5">7</text></g>
<g id="m148"><text class="d" x="290" y="678.3" textLength="60">6/6　五サ　11:00</text><text class="n e" x="373" y="678.3">148</text><text class="s" x="377.5" y="674.5">1</text><text class="s" x="377.5" y="682.5">2</text></g>
</g>

<g id="matches-right-r1">
<g id="m16"><text class="n" x="666" y="87.3">16</text><text class="d" x="678" y="87.3">5/3 丹北②</text><text class="s e" x="660.5" y="83.5">0</text><text class="s e" x="660.5" y="91.5">4</text></g>
<g id="m17"><text class="n" x="666" y="170.6">17</text><text class="d" x="678" y="170.6">5/3 尼小①</text><text class="s e" x="660.5" y="166.8">(5)0</text><text class="s e" x="660.5" y="174.8">(4)0</text></g>
<g id="m18"><text class="n" x="666" y="237.3">18</text><text class="d" x="678" y="237.3">5/3 飾磨②</text><text class="s e" x="660.5" y="233.5">3</text><text class="s e" x="660.5" y="241.5">0</text></g>
<g id="m19"><text class="n" x="666" y="337.3">19</text><text class="d" x="678" y="337.3">5/3 尼小③</text><text class="s e" x="660.5" y="333.5">5</text><text class="s e" x="660.5" y="341.5">0</text></g>
<g id="m20"><text class="n" x="666" y="404">20</text><text class="d" x="678" y="404">5/3 松聖②</text><text class="s e" x="660.5" y="400.2">3</text><text class="s e" x="660.5" y="408.2">1</text></g>
<g id="m21"><text class="n" x="666" y="504.1">21</text><text class="d" x="678" y="504.1">5/3 西東①</text><text class="s e" x="660.5" y="500.3">3</text><text class="s e" x="660.5" y="508.3">0</text></g>
<g id="m22"><text class="n" x="666" y="570.7">22</text><text class="d" x="678" y="570.7">5/3 社 ①</text><text class="s e" x="660.5" y="566.9">2</text><text class="s e" x="660.5" y="574.9">0</text></g>
<g id="m23"><text class="n" x="666" y="654.1">23</text><text class="d" x="678" y="654.1">5/3 松聖①</text><text class="s e" x="660.5" y="650.3">7</text><text class="s e" x="660.5" y="658.3">0</text></g>
<g id="m24"><text class="n" x="666" y="720.8">24</text><text class="d" x="678" y="720.8">5/3 社 ③</text><text class="s e" x="660.5" y="717">14</text><text class="s e" x="660.5" y="725">1</text></g>
<g id="m25"><text class="n" x="666" y="804.1">25</text><text class="d" x="678" y="804.1">5/3 西東③</text><text class="s e" x="660.5" y="800.3">0</text><text class="s e" x="660.5" y="808.3">2</text></g>
<g id="m26"><text class="n" x="666" y="870.8">26</text><text class="d" x="678" y="870.8">5/3 高塚②</text><text class="s e" x="660.5" y="867">1</text><text class="s e" x="660.5" y="875">7</text></g>
<g id="m27"><text class="n" x="666" y="970.8">27</text><text class="d" x="678" y="970.8">5/3 尼小②</text><text class="s e" x="660.5" y="967">ex2</text><text class="s e" x="660.5" y="975">1</text></g>
<g id="m28"><text class="n" x="666" y="1037.5">28</text><text class="d" x="678" y="1037.5">5/4 三木①</text><text class="s e" x="660.5" y="1033.7">1</text><text class="s e" x="660.5" y="1041.7">0</text></g>
<g id="m29"><text class="n" x="666" y="1137.5">29</text><text class="d" x="678" y="1137.5">5/3 丹北④</text><text class="s e" x="660.5" y="1133.7">12</text><text class="s e" x="660.5" y="1141.7">0</text></g>
<g id="m30"><text class="n" x="666" y="1204.2">30</text><text class="d" x="678" y="1204.2">5/3 松聖③</text><text class="s e" x="660.5" y="1200.4">0</text><text class="s e" x="660.5" y="1208.4">1</text></g>
<g id="m31"><text class="n" x="666" y="1287.5">31</text><text class="d" x="678" y="1287.5">5/3 飾磨①</text><text class="s e" x="660.5" y="1283.7">4</text><text class="s e" x="660.5" y="1291.7">2</text></g>
</g>

<g id="matches-right-r2">
<g id="m60"><text class="n" x="632" y="99.8">60</text><text class="d" x="645" y="99.8">5/10 神専①</text><text class="s e" x="626.5" y="96">0</text><text class="s e" x="626.5" y="104">1</text></g>
<g id="m61"><text class="n" x="632" y="137.3">61</text><text class="d" x="645" y="137.3">5/11 城西③</text><text class="s e" x="626.5" y="133.5">0</text><text class="s e" x="626.5" y="141.5">3</text></g>
<g id="m62"><text class="n" x="632" y="183.2">62</text><text class="d" x="645" y="183.2">5/10 松聖②</text><text class="s e" x="626.5" y="179.4">6</text><text class="s e" x="626.5" y="187.4">0</text></g>
<g id="m63"><text class="n" x="632" y="224.8">63</text><text class="d" x="645" y="224.8">5/11 琴丘①</text><text class="s e" x="626.5" y="221">7</text><text class="s e" x="626.5" y="229">0</text></g>
<g id="m64"><text class="n" x="632" y="270.7">64</text><text class="d" x="645" y="270.7">5/10 丹西④</text><text class="s e" x="626.5" y="266.9">2</text><text class="s e" x="626.5" y="274.9">1</text></g>
<g id="m65"><text class="n" x="632" y="304">65</text><text class="d" x="645" y="304">5/11 明専②</text><text class="s e" x="626.5" y="300.2">2</text><text class="s e" x="626.5" y="308.2">1</text></g>
<g id="m66"><text class="n" x="632" y="349.9">66</text><text class="d" x="645" y="349.9">5/10 県伊③</text><text class="s e" x="626.5" y="346.1">1</text><text class="s e" x="626.5" y="354.1">ex2</text></g>
<g id="m67"><text class="n" x="632" y="391.5">67</text><text class="d" x="645" y="391.5">5/10 北須③</text><text class="s e" x="626.5" y="387.7">1</text><text class="s e" x="626.5" y="395.7">6</text></g>
<g id="m68"><text class="n" x="632" y="437.3">68</text><text class="d" x="645" y="437.3">5/11 琴丘④</text><text class="s e" x="626.5" y="433.5">1</text><text class="s e" x="626.5" y="441.5">0</text></g>
<g id="m69"><text class="n" x="632" y="470.7">69</text><text class="d" x="645" y="470.7">5/10 県伊④</text><text class="s e" x="626.5" y="466.9">1</text><text class="s e" x="626.5" y="474.9">0</text></g>
<g id="m70"><text class="n" x="632" y="516.6">70</text><text class="d" x="645" y="516.6">5/10 西東①</text><text class="s e" x="626.5" y="512.8">8</text><text class="s e" x="626.5" y="520.8">1</text></g>
<g id="m71"><text class="n" x="632" y="558.2">71</text><text class="d" x="645" y="558.2">5/11 社 ①</text><text class="s e" x="626.5" y="554.4">0</text><text class="s e" x="626.5" y="562.4">8</text></g>
<g id="m72"><text class="n" x="632" y="604.1">72</text><text class="d" x="645" y="604.1">5/10 北須④</text><text class="s e" x="626.5" y="600.3">1</text><text class="s e" x="626.5" y="608.3">3</text></g>
<g id="m73"><text class="n" x="632" y="641.6">73</text><text class="d" x="645" y="641.6">5/10 松聖①</text><text class="s e" x="626.5" y="637.8">1</text><text class="s e" x="626.5" y="645.8">4</text></g>
<g id="m74"><text class="n" x="632" y="733.3">74</text><text class="d" x="645" y="733.3">5/10 北須②</text><text class="s e" x="626.5" y="729.5">(6)1</text><text class="s e" x="626.5" y="737.5">(7)1</text></g>
<g id="m75"><text class="n" x="632" y="770.8">75</text><text class="d" x="645" y="770.8">5/10 飾磨④</text><text class="s e" x="626.5" y="767">(5)3</text><text class="s e" x="626.5" y="775">(4)3</text></g>
<g id="m76"><text class="n" x="632" y="816.6">76</text><text class="d" x="645" y="816.6">5/10 西浜①</text><text class="s e" x="626.5" y="812.8">0</text><text class="s e" x="626.5" y="820.8">1</text></g>
<g id="m77"><text class="n" x="632" y="858.3">77</text><text class="d" x="645" y="858.3">5/10 西東①</text><text class="s e" x="626.5" y="854.5">4</text><text class="s e" x="626.5" y="862.5">0</text></g>
<g id="m78"><text class="n" x="632" y="904.2">78</text><text class="d" x="645" y="904.2">5/10 丹西②</text><text class="s e" x="626.5" y="900.4">2</text><text class="s e" x="626.5" y="908.4">1</text></g>
<g id="m79"><text class="n" x="632" y="937.5">79</text><text class="d" x="645" y="937.5">5/11 琴丘③</text><text class="s e" x="626.5" y="933.7">4</text><text class="s e" x="626.5" y="941.7">1</text></g>
<g id="m80"><text class="n" x="632" y="983.3">80</text><text class="d" x="645" y="983.3">5/11 明専④</text><text class="s e" x="626.5" y="979.5">2</text><text class="s e" x="626.5" y="987.5">0</text></g>
<g id="m81"><text class="n" x="632" y="1025">81</text><text class="d" x="645" y="1025">5/11 城西②</text><text class="s e" x="626.5" y="1021.2">ex1</text><text class="s e" x="626.5" y="1029.2">0</text></g>
<g id="m82"><text class="n" x="632" y="1070.8">82</text><text class="d" x="645" y="1070.8">5/11 社 ②</text><text class="s e" x="626.5" y="1067">2</text><text class="s e" x="626.5" y="1075">1</text></g>
<g id="m83"><text class="n" x="632" y="1104.2">83</text><text class="d" x="645" y="1104.2">5/10 神専②</text><text class="s e" x="626.5" y="1100.4">(4)0</text><text class="s e" x="626.5" y="1108.4">(2)0</text></g>
<g id="m84"><text class="n" x="632" y="1150">84</text><text class="d" x="645" y="1150">5/10 西浜③</text><text class="s e" x="626.5" y="1146.2">(3)0</text><text class="s e" x="626.5" y="1154.2">(5)0</text></g>
<g id="m85"><text class="n" x="632" y="1191.7">85</text><text class="d" x="645" y="1191.7">5/11 啓明④</text><text class="s e" x="626.5" y="1187.9">1</text><text class="s e" x="626.5" y="1195.9">2</text></g>
<g id="m86"><text class="n" x="632" y="1237.5">86</text><text class="d" x="645" y="1237.5">5/10 西東②</text><text class="s e" x="626.5" y="1233.7">2</text><text class="s e" x="626.5" y="1241.7">3</text></g>
<g id="m87"><text class="n" x="632" y="1275">87</text><text class="d" x="645" y="1275">5/10 飾磨①</text><text class="s e" x="626.5" y="1271.2">0</text><text class="s e" x="626.5" y="1279.2">2</text></g>
</g>

<g id="matches-right-r3">
<g id="m104"><text class="n" x="592" y="76.4">104</text><text class="d" x="608" y="74.3">5/18 滝二④</text><text class="s e" x="586.5" y="74.5">4</text><text class="s e" x="586.5" y="82.5">0</text></g>
<g id="m105"><text class="n" x="592" y="159.4">105</text><text class="d" x="608" y="159.4">5/17 社 ①</text><text class="s e" x="586.5" y="157.5">0</text><text class="s e" x="586.5" y="165.5">2</text></g>
<g id="m106"><text class="n" x="592" y="244.4">106</text><text class="d" x="608" y="250">5/17 琴丘①</text><text class="s e" x="586.5" y="242.5">1</text><text class="s e" x="586.5" y="250.5">ex2</text></g>
<g id="m107"><text class="n" x="592" y="328.1">107</text><text class="d" x="608" y="324">5/18 西浜④</text><text class="s e" x="586.5" y="323.5">0</text><text class="s e" x="586.5" y="331.5">1</text></g>
<g id="m108"><text class="n" x="592" y="415.4">108</text><text class="d" x="608" y="415.4">5/17 関学②</text><text class="s e" x="586.5" y="408.5">3</text><text class="s e" x="586.5" y="416.5">0</text></g>
<g id="m109"><text class="n" x="592" y="490.4">109</text><text class="d" x="608" y="490.4">5/17 芦学④</text><text class="s e" x="586.5" y="489.5">0</text><text class="s e" x="586.5" y="497.5">3</text></g>
<g id="m110"><text class="n" x="592" y="583.4">110</text><text class="d" x="608" y="583.4">5/17 社 ①</text><text class="s e" x="586.5" y="575.5">3</text><text class="s e" x="586.5" y="583.5">2</text></g>
<g id="m111"><text class="n" x="592" y="666.4">111</text><text class="d" x="608" y="666.4">5/17 松聖①</text><text class="s e" x="586.5" y="657.5">0</text><text class="s e" x="586.5" y="665.5">ex1</text></g>
<g id="m112"><text class="n" x="592" y="709.1">112</text><text class="d" x="608" y="709.1">5/18 三田②</text><text class="s e" x="586.5" y="707.5">8</text><text class="s e" x="586.5" y="715.5">0</text></g>
<g id="m113"><text class="n" x="592" y="791.4">113</text><text class="d" x="608" y="791.4">5/18 西浜①</text><text class="s e" x="586.5" y="789.5">0</text><text class="s e" x="586.5" y="797.5">4</text></g>
<g id="m114"><text class="n" x="592" y="876.4">114</text><text class="d" x="608" y="883">5/18 弘陵②</text><text class="s e" x="586.5" y="874.5">2</text><text class="s e" x="586.5" y="882.5">0</text></g>
<g id="m115"><text class="n" x="592" y="958.4">115</text><text class="d" x="608" y="958.4">5/17 社 ②</text><text class="s e" x="586.5" y="956.5">1</text><text class="s e" x="586.5" y="964.5">0</text></g>
<g id="m116"><text class="n" x="592" y="1050.1">116</text><text class="d" x="608" y="1050.1">5/17 社 ④</text><text class="s e" x="586.5" y="1042.5">8</text><text class="s e" x="586.5" y="1050.5">0</text></g>
<g id="m117"><text class="n" x="592" y="1126.7">117</text><text class="d" x="608" y="1125.3">5/18 滝二②</text><text class="s e" x="586.5" y="1122.5">0</text><text class="s e" x="586.5" y="1130.5">2</text></g>
<g id="m118"><text class="n" x="592" y="1215.7">118</text><text class="d" x="608" y="1215.7">5/17 明南④</text><text class="s e" x="586.5" y="1209.5">0</text><text class="s e" x="586.5" y="1217.5">3</text></g>
<g id="m119"><text class="n" x="592" y="1294.7">119</text><text class="d" x="608" y="1300">5/18 西浜②</text><text class="s e" x="586.5" y="1290.5">0</text><text class="s e" x="586.5" y="1298.5">1</text></g>
</g>

<g id="matches-right-r4">
<g id="m128"><text class="n" x="550" y="119.3">128</text><text class="d" x="565" y="119.3">5/24 関学②</text><text class="s e" x="545.5" y="115.5">5</text><text class="s e" x="545.5" y="123.5">0</text></g>
<g id="m129"><text class="n" x="550" y="285.3">129</text><text class="d" x="565" y="285.3">5/24 姫球②</text><text class="s e" x="545.5" y="281.5">3</text><text class="s e" x="545.5" y="289.5">1</text></g>
<g id="m130"><text class="n" x="550" y="452.3">130</text><text class="d" x="565" y="452.3">5/24 西東②</text><text class="s e" x="545.5" y="448.5">1</text><text class="s e" x="545.5" y="456.5">ex2</text></g>
<g id="m131"><text class="n" x="550" y="619.3">131</text><text class="d" x="565" y="619.3">5/24 松聖③</text><text class="s e" x="545.5" y="615.5">(6)3</text><text class="s e" x="545.5" y="623.5">(7)3</text></g>
<g id="m132"><text class="n" x="550" y="752.3">132</text><text class="d" x="565" y="752.3">5/24 滝二④</text><text class="s e" x="545.5" y="748.5">3</text><text class="s e" x="545.5" y="756.5">1</text></g>
<g id="m133"><text class="n" x="550" y="919.3">133</text><text class="d" x="565" y="919.3">5/24 松聖④</text><text class="s e" x="545.5" y="915.5">2</text><text class="s e" x="545.5" y="923.5">1</text></g>
<g id="m134"><text class="n" x="550" y="1086.3">134</text><text class="d" x="565" y="1086.3">5/24 啓明②</text><text class="s e" x="545.5" y="1082.5">0</text><text class="s e" x="545.5" y="1090.5">1</text></g>
<g id="m135"><text class="n" x="550" y="1253.3">135</text><text class="d" x="565" y="1253.3">5/24 姫球③</text><text class="s e" x="545.5" y="1249.5">1</text><text class="s e" x="545.5" y="1257.5">4</text></g>
</g>

<g id="matches-right-late">
<g id="m140"><text class="n" x="510" y="203">140</text><text class="d" x="527" y="203">5/25 弘陵②</text><text class="s e" x="504.2" y="199.2">10</text><text class="s e" x="504.2" y="207.2">0</text></g>
<g id="m141"><text class="n" x="510" y="536.3">141</text><text class="d" x="527" y="536.3">5/25 松聖③</text><text class="s e" x="504.2" y="532.5">0</text><text class="s e" x="504.2" y="540.5">2</text></g>
<g id="m142"><text class="n" x="510" y="836.3">142</text><text class="d" x="527" y="836.3">5/25 滝二④</text><text class="s e" x="504.2" y="832.5">10</text><text class="s e" x="504.2" y="840.5">0</text></g>
<g id="m143"><text class="n" x="510" y="1169.3">143</text><text class="d" x="527" y="1169.3">5/25 松聖④</text><text class="s e" x="504.2" y="1165.5">1</text><text class="s e" x="504.2" y="1173.5">5</text></g>
<g id="m146"><text class="n" x="469" y="361.3">146</text><text class="d" x="492" y="361.3">5/31 滝二②</text><text class="s e" x="464.2" y="357.5">2</text><text class="s e" x="464.2" y="365.5">1</text></g>
<g id="m147"><text class="n" x="469" y="995.3">147</text><text class="d" x="492" y="995.3">5/31 弘陵②</text><text class="s e" x="464.2" y="991.5">(4)0</text><text class="s e" x="464.2" y="999.5">(1)0</text></g>
<g id="m149"><text class="n" x="438.5" y="678.3">149</text><text class="d" x="455" y="678.3" textLength="62">6/6　五サ　13:00</text><text class="s e" x="433.2" y="674.5">1</text><text class="s e" x="433.2" y="682.5">3</text></g>
</g>

<g id="finals">
<g id="m150"><text class="d c" x="404.3" y="661.5">決 勝</text><text class="n c" x="404.3" y="684">150</text><text class="d c" x="404.3" y="702.3">6/8</text><text class="d c" x="404.3" y="717.3">三陵　11:00</text></g>
<g id="m151"><text class="d c" x="404.3" y="753">三 決</text><text class="n c" x="404.3" y="775">151</text><text class="d c" x="404.3" y="795">6/8</text><text class="d c" x="404.3" y="809">三陵　13:00</text></g>
</g>

<g id="legend">
<text class="lg" x="354" y="77.3">5/ 3(土)</text>
<text class="lg" x="354" y="94">5/ 4(日)</text>
<text class="lg" x="404" y="86.3" textLength="29">1 回 戦</text>
<text class="lg" x="354" y="110.6">5/10(土)</text>
<text class="lg" x="354" y="128">5/11(日)</text>
<text class="lg" x="404" y="120" textLength="29">2 回 戦</text>
<text class="lg" x="354" y="144">5/17(土)</text>
<text class="lg" x="354" y="161.3">5/18(日)</text>
<text class="lg" x="404" y="153.3" textLength="29">3 回 戦</text>
<text class="lg" x="354" y="177.3">5/24(土)</text>
<text class="lg" x="404" y="177.3" textLength="29">4 回 戦</text>
<text class="lg" x="354" y="194">5/25(日)</text>
<text class="lg" x="404" y="194" textLength="29">5 回 戦</text>
<text class="lg" x="355" y="211.3">5/31(土)</text>
<text class="lg" x="404" y="211.3" textLength="29">準々決勝</text>
<text class="lg" x="354" y="228">6/ 6(金)</text>
<text class="lg" x="404" y="228" textLength="29">準 決 勝</text>
<text class="lg" x="354" y="244.6">6/ 8(日)</text>
<text class="lg" x="401" y="244.6" textLength="32">決勝・三決</text>
<text class="lg c" x="405.5" y="274">〈開始時間〉</text>
<text class="lg" x="383" y="294.6">① …… 10:00</text>
<text class="lg" x="383" y="311.3">② …… 11:30</text>
<text class="lg" x="383" y="328">③ …… 13:00</text>
<text class="lg" x="383" y="344.6">④ …… 14:30</text>
</g>

<g id="venues">
<text class="vn c" x="406" y="1073">〈会場〉</text>
<text class="vn" x="356" y="1082.3">三陵—三木総合防災公園陸上競技場</text>
<text class="vn" x="356" y="1090.7">五サ—アスパ五色サブグラウンド</text>
<text class="vn" x="356" y="1099.1">西浜—西宮浜総合公園ベイコムフィールド</text>
<text class="vn" x="356" y="1107.5">姫球—姫路球技スポーツセンター</text>
<text class="vn" x="356" y="1115.9">明専—国立明石工業高等専門学校</text>
<text class="vn" x="356" y="1124.3">城西—県立明石城西高等学校</text>
<text class="vn" x="356" y="1132.7">明南—県立明石南高等学校</text>
<text class="vn" x="356" y="1141.1">芦学—芦屋学園総合人工芝グラウンド</text>
<text class="vn" x="356" y="1149.5">尼小—県立尼崎小田高等学校</text>
<text class="vn" x="356" y="1157.9">県伊—県立伊丹高等学校</text>
<text class="vn" x="356" y="1166.3">丹北—県立伊丹北高等学校</text>
<text class="vn" x="356" y="1174.7">丹西—県立伊丹西高等学校</text>
<text class="vn" x="356" y="1183.1">関学—関西学院大学第4フィールド</text>
<text class="vn" x="356" y="1191.5">北須—県立北須磨高等学校</text>
<text class="vn" x="356" y="1199.9">啓明—啓明学院高等学校</text>
<text class="vn" x="356" y="1208.3">神院—神戸学院グラウンド</text>
<text class="vn" x="356" y="1216.7">弘陵—神戸弘陵学園高等学校</text>
<text class="vn" x="356" y="1225.1">高塚—県立神戸高塚高等学校</text>
<text class="vn" x="356" y="1233.5">神専—神戸市立工業高等専門学校</text>
<text class="vn" x="356" y="1241.9">琴丘—姫路市立琴丘高等学校</text>
<text class="vn" x="356" y="1250.3">三田—三田学園高等学校</text>
<text class="vn" x="356" y="1258.7">松聖—三田松聖高等学校</text>
<text class="vn" x="356" y="1267.1">飾磨—姫路市立飾磨高等学校</text>
<text class="vn" x="356" y="1275.5">滝二—滝川第二高等学校</text>
<text class="vn" x="356" y="1283.9">灘　—灘高等学校</text>
<text class="vn" x="356" y="1292.3">西東—西宮市立西宮東高等学校</text>
<text class="vn" x="356" y="1300.7">三木—県立三木高等学校</text>
<text class="vn" x="356" y="1309.1">社　—県立社高等学校</text>
</g>
</svg>
